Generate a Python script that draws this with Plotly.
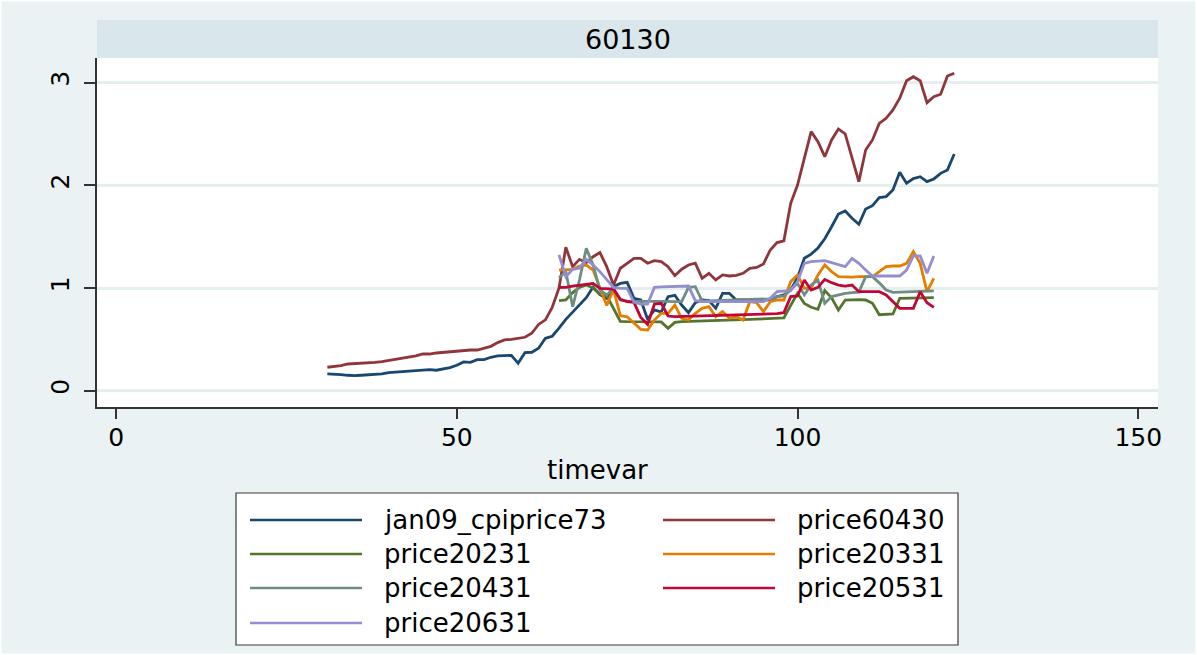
import plotly.graph_objects as go

# ---- data -------------------------------------------------------------
t_long = list(range(31, 124))   # timevar for the two long series
t_short = list(range(65, 121))  # timevar for the price2xx31 series

jan09_cpiprice73 = [
    0.163, 0.162, 0.156, 0.150, 0.146, 0.150, 0.153, 0.156, 0.163, 0.176,
    0.182, 0.185, 0.189, 0.199, 0.205, 0.205, 0.199, 0.212, 0.225, 0.247,
    0.280, 0.276, 0.302, 0.302, 0.325, 0.338, 0.341, 0.344, 0.267, 0.370,
    0.374, 0.413, 0.510, 0.530, 0.610, 0.695, 0.765, 0.840, 0.905, 1.010,
    0.935, 0.899, 1.013, 1.045, 1.055, 0.899, 0.883, 0.695, 0.786, 0.766,
    0.916, 0.929, 0.834, 0.760, 0.857, 0.883, 0.877, 0.802, 0.948, 0.948,
    0.883, 0.883, 0.880, 0.881, 0.883, 0.884, 0.916, 0.932, 0.981, 1.100,
    1.290, 1.330, 1.390, 1.480, 1.597, 1.721, 1.750, 1.679, 1.621, 1.770,
    1.802, 1.880, 1.890, 1.955, 2.127, 2.020, 2.065, 2.084, 2.036, 2.062,
    2.117, 2.150, 2.305,
]

price60430 = [
    0.228, 0.234, 0.244, 0.260, 0.263, 0.267, 0.270, 0.276, 0.283, 0.293,
    0.309, 0.318, 0.322, 0.338, 0.357, 0.357, 0.367, 0.374, 0.380, 0.387,
    0.393, 0.396, 0.396, 0.413, 0.432, 0.468, 0.494, 0.500, 0.513, 0.520,
    0.559, 0.645, 0.690, 0.810, 1.000, 1.396, 1.208, 1.279, 1.247, 1.305,
    1.345, 1.208, 1.030, 1.192, 1.239, 1.288, 1.288, 1.241, 1.267, 1.257,
    1.208, 1.120, 1.183, 1.224, 1.241, 1.094, 1.143, 1.078, 1.127, 1.117,
    1.124, 1.143, 1.192, 1.200, 1.234, 1.370, 1.442, 1.460, 1.825, 2.003,
    2.263, 2.523, 2.425, 2.279, 2.442, 2.549, 2.500, 2.260, 2.036, 2.344,
    2.442, 2.604, 2.653, 2.734, 2.848, 3.019, 3.058, 3.019, 2.805, 2.864,
    2.887, 3.065, 3.091,
]

price20231 = [
    0.877, 0.883, 0.955, 1.006, 1.029, 1.000, 0.940, 0.925, 0.800, 0.675,
    0.672, 0.672, 0.673, 0.671, 0.668, 0.670, 0.607, 0.665, 0.672, 0.675,
    0.677, 0.680, 0.681, 0.684, 0.686, 0.688, 0.690, 0.693, 0.695, 0.697,
    0.700, 0.702, 0.705, 0.708, 0.830, 0.948, 0.850, 0.812, 0.792, 0.975,
    0.905, 0.786, 0.883, 0.886, 0.886, 0.883, 0.851, 0.740, 0.740, 0.747,
    0.899, 0.900, 0.902, 0.904, 0.906, 0.906,
]

price20331 = [
    1.175, 1.175, 1.182, 1.214, 1.224, 1.175, 1.005, 0.830, 0.984, 0.730,
    0.720, 0.656, 0.597, 0.591, 0.688, 0.753, 0.753, 0.834, 0.705, 0.688,
    0.753, 0.802, 0.818, 0.721, 0.770, 0.705, 0.721, 0.688, 0.867, 0.857,
    0.770, 0.867, 0.883, 0.883, 1.062, 1.127, 0.997, 1.000, 1.127, 1.224,
    1.159, 1.110, 1.105, 1.105, 1.110, 1.110, 1.110, 1.159, 1.208, 1.214,
    1.214, 1.240, 1.354, 1.240, 0.964, 1.094,
]

price20431 = [
    1.100, 1.160, 0.818, 1.078, 1.386, 1.224, 0.981, 0.932, 0.997, 0.883,
    0.873, 0.873, 0.874, 0.873, 0.872, 0.873, 0.874, 0.873, 0.867, 1.006,
    1.013, 0.873, 0.875, 0.877, 0.879, 0.880, 0.883, 0.885, 0.887, 0.889,
    0.891, 0.895, 0.916, 0.922, 0.987, 1.045, 0.932, 1.029, 1.078, 0.851,
    0.916, 0.932, 0.948, 0.955, 0.960, 1.110, 1.110, 1.050, 0.980, 0.957,
    0.960, 0.963, 0.965, 0.968, 0.970, 0.971,
]

price20531 = [
    1.006, 1.006, 1.019, 1.029, 1.039, 1.045, 0.997, 0.994, 0.990, 0.890,
    0.867, 0.860, 0.714, 0.646, 0.844, 0.851, 0.727, 0.721, 0.722, 0.724,
    0.726, 0.728, 0.730, 0.732, 0.734, 0.736, 0.738, 0.740, 0.742, 0.744,
    0.746, 0.748, 0.750, 0.760, 0.916, 0.922, 1.078, 0.981, 1.006, 1.084,
    1.052, 1.029, 1.019, 1.029, 0.964, 0.964, 0.964, 0.964, 0.932, 0.867,
    0.802, 0.802, 0.802, 0.964, 0.857, 0.812,
]

price20631 = [
    1.322, 1.110, 1.182, 1.192, 1.279, 1.224, 1.159, 1.078, 1.006, 0.997,
    0.997, 0.862, 0.844, 0.844, 1.006, 1.010, 1.013, 1.015, 1.017, 1.019,
    0.877, 0.867, 0.867, 0.868, 0.867, 0.866, 0.867, 0.868, 0.867, 0.867,
    0.868, 0.900, 0.964, 0.970, 0.974, 1.062, 1.240, 1.256, 1.263, 1.266,
    1.247, 1.224, 1.208, 1.289, 1.240, 1.175, 1.117, 1.117, 1.117, 1.117,
    1.117, 1.175, 1.312, 1.312, 1.143, 1.312,
]

series = [
    ("jan09_cpiprice73", t_long, jan09_cpiprice73, "#1A476F"),
    ("price60430", t_long, price60430, "#90353B"),
    ("price20231", t_short, price20231, "#55752F"),
    ("price20331", t_short, price20331, "#E37E00"),
    ("price20431", t_short, price20431, "#6E8E84"),
    ("price20531", t_short, price20531, "#C10534"),
    ("price20631", t_short, price20631, "#938DD2"),
]

panel_title = "60130"
x_title = "timevar"
x_ticks = [0, 50, 100, 150]
y_ticks = [0, 1, 2, 3]

# ---- figure -----------------------------------------------------------
W, H = 1197, 655
ML, MR, MT, MB = 97, 39, 58, 248
PW, PH = W - ML - MR, H - MT - MB
FONT = "DejaVu Sans, Arial, sans-serif"
BG = "#EAF2F3"
AXIS = "#333333"


def px_x(px):
    return (px - ML) / PW


def px_y(py):
    return (H - MB - py) / PH


fig = go.Figure()
for name, xs, ys, color in series:
    fig.add_trace(go.Scatter(
        x=xs, y=ys, mode="lines", name=name,
        line=dict(color=color, width=2.8), showlegend=False,
    ))

shapes = []
annotations = []

# panel strip with its title
shapes.append(dict(type="rect", xref="paper", yref="paper",
                   x0=0, x1=1, y0=1, y1=px_y(20),
                   fillcolor="#D9E6EB", line=dict(width=0), layer="below"))
annotations.append(dict(text=panel_title, xref="paper", yref="paper",
                        x=0.5, y=px_y(39), xanchor="center", yanchor="middle",
                        showarrow=False, font=dict(family=FONT, size=27, color="#000000")))

# x axis title
annotations.append(dict(text=x_title, xref="paper", yref="paper",
                        x=px_x(597), y=px_y(470), xanchor="center", yanchor="middle",
                        showarrow=False, font=dict(family=FONT, size=26, color="#000000")))

# legend box, drawn as a keyed two-column table
lx0, lx1, ly0, ly1 = 236, 958, 493, 645
shapes.append(dict(type="rect", xref="paper", yref="paper",
                   x0=px_x(lx0), x1=px_x(lx1), y0=px_y(ly1), y1=px_y(ly0),
                   fillcolor="#FFFFFF", line=dict(color="#3a3a3a", width=1.2)))
col_line = [(250, 362), (663, 775)]
col_text = [382, 795]
row_y = [520, 554, 588, 623]
for i, (name, _, _, color) in enumerate(series):
    r, c = divmod(i, 2)
    yy = px_y(row_y[r])
    shapes.append(dict(type="line", xref="paper", yref="paper",
                       x0=px_x(col_line[c][0]), x1=px_x(col_line[c][1]), y0=yy, y1=yy,
                       line=dict(color=color, width=2.6)))
    annotations.append(dict(text=name, xref="paper", yref="paper",
                            x=px_x(col_text[c]), y=yy, xanchor="left", yanchor="middle",
                            showarrow=False, font=dict(family=FONT, size=26, color="#000000")))

# thin white frame around the graph region
shapes.append(dict(type="rect", xref="paper", yref="paper",
                   x0=px_x(0), x1=px_x(W), y0=px_y(H), y1=px_y(0),
                   fillcolor="rgba(0,0,0,0)", line=dict(color="#FFFFFF", width=3)))

fig.update_layout(
    width=W, height=H,
    margin=dict(l=ML, r=MR, t=MT, b=MB, pad=0),
    paper_bgcolor=BG, plot_bgcolor="#FFFFFF",
    font=dict(family=FONT, size=25, color="#000000"),
    shapes=shapes, annotations=annotations,
    showlegend=False,
    xaxis=dict(
        range=[-2.8, 152.9], tickvals=x_ticks, ticktext=[str(v) for v in x_ticks],
        showgrid=False, zeroline=False,
        showline=True, linecolor=AXIS, linewidth=1.5,
        ticks="outside", ticklen=10, tickwidth=1.5, tickcolor=AXIS,
        tickfont=dict(family=FONT, size=25, color="#000000"),
        ticklabelstandoff=-3,
    ),
    yaxis=dict(
        range=[-0.159, 3.240], tickvals=y_ticks, ticktext=[str(v) for v in y_ticks],
        showgrid=True, gridcolor="#E6EFF0", gridwidth=2.5, zeroline=False,
        showline=True, linecolor=AXIS, linewidth=1.5,
        ticks="outside", ticklen=11, tickwidth=1.5, tickcolor=AXIS,
        tickangle=-90,
        tickfont=dict(family=FONT, size=25, color="#000000"),
        ticklabelstandoff=5,
    ),
)

fig.write_html("out.html")
